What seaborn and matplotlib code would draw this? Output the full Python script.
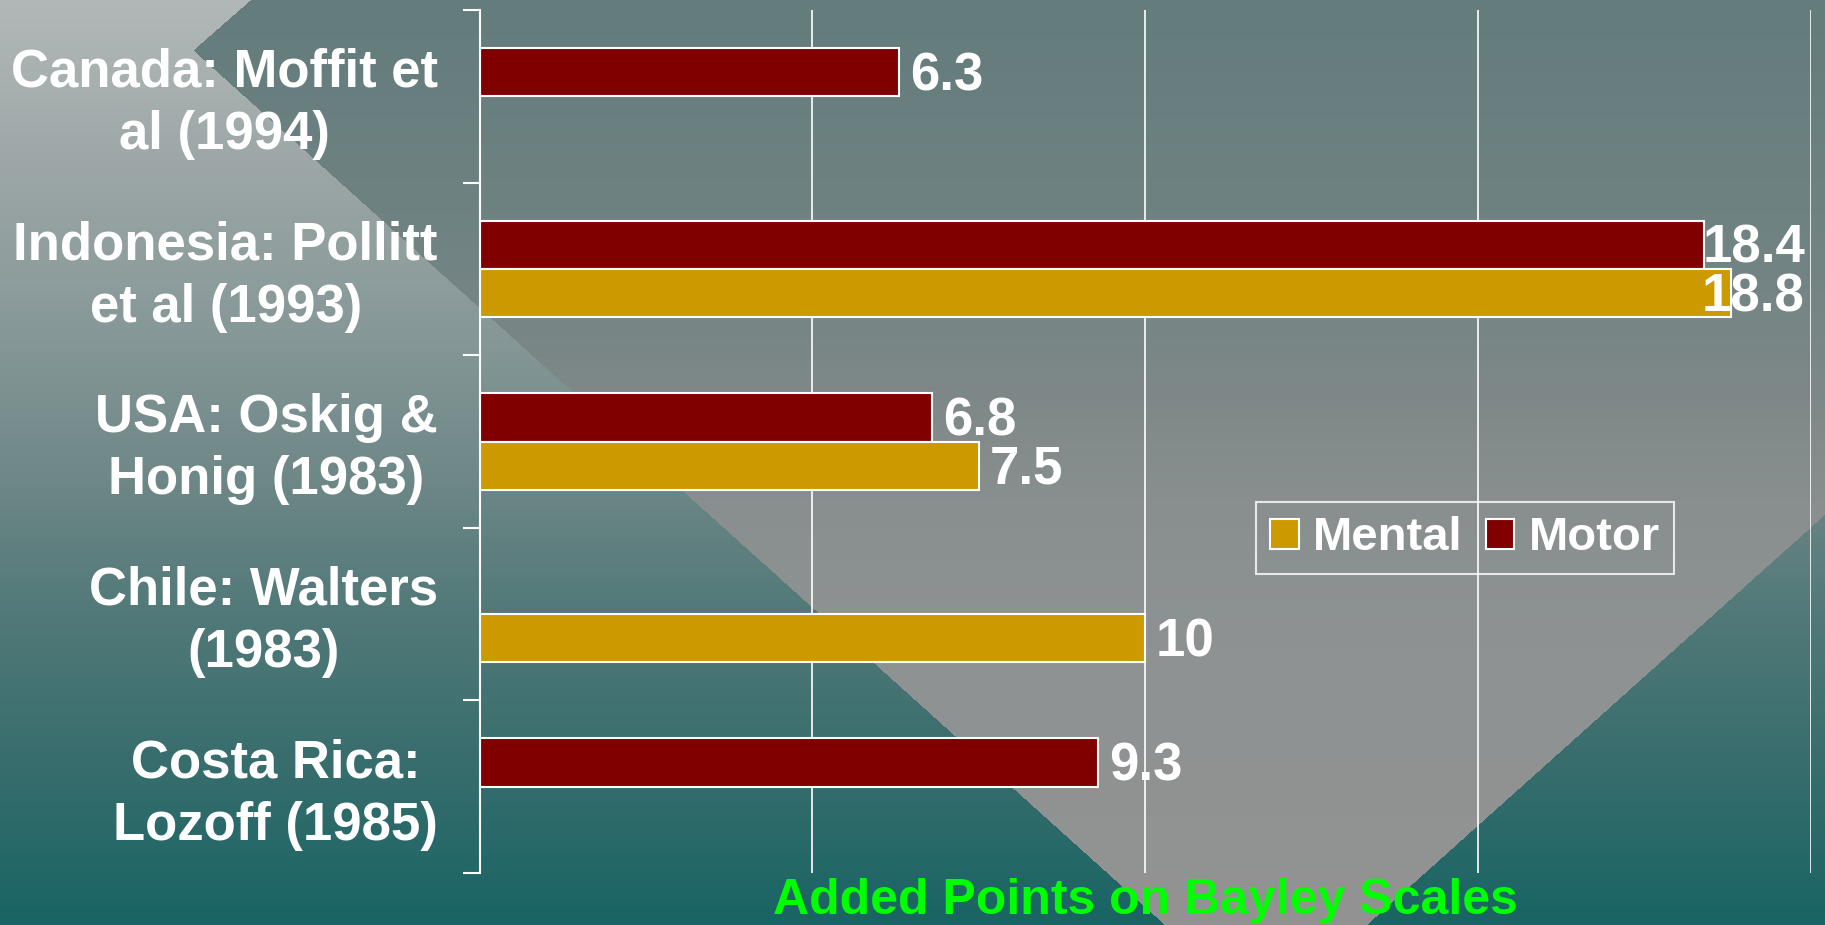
import numpy as np
import pandas as pd
import seaborn as sns
import matplotlib.pyplot as plt
import matplotlib.transforms as mtransforms
from matplotlib.patches import Patch

plt.rcParams['font.family'] = ['Liberation Sans', 'DejaVu Sans']
plt.rcParams['font.weight'] = 'bold'

# data
studies = ['Canada: Moffit et\nal (1994)', 'Indonesia: Pollitt\net al (1993)',
           'USA: Oskig &\nHonig (1983)', 'Chile: Walters\n(1983)',
           'Costa Rica:\nLozoff (1985)']
mental = [np.nan, 18.8, 7.5, 10, np.nan]
motor = [6.3, 18.4, 6.8, np.nan, 9.3]
series = ['Mental', 'Motor']
colors = {'Mental': '#CC9900', 'Motor': '#800000'}

df = pd.DataFrame({'study': studies * 2,
                   'test': ['Mental'] * len(studies) + ['Motor'] * len(studies),
                   'points': mental + motor}).dropna()

W, H = 1825, 925
fig = plt.figure(figsize=(W / 100, H / 100), dpi=100)

# slide background: vertical gradient + grey wedge
yy, xx = np.mgrid[0:H, 0:W].astype(float)
def grad(stops, ys):
    pos = [s[0] for s in stops]
    return np.stack([np.interp(ys, pos, [s[1][i] for s in stops]) for i in range(3)], axis=-1)
outside = grad([(0, (178, 184, 184)), (170, (156, 166, 166)), (330, (135, 152, 152)),
                (480, (110, 135, 135)), (600, (84, 122, 122)), (750, (58, 110, 110)),
                (925, (25, 100, 100))], yy)
wedge = grad([(0, (100, 124, 124)), (250, (113, 131, 131)), (400, (127, 136, 136)),
              (500, (137, 143, 143)), (650, (142, 146, 146)), (925, (147, 147, 147))], yy)
xa = 250 - yy * 1.14
xb = 193 + (yy - 50) * 1.1109
xc = 1366 + (925 - yy) * 1.1169
inside = (xx > xa) & (xx > xb) & (xx < xc)
bg = np.where(inside[..., None], wedge, outside) / 255.0
bgax = fig.add_axes([0, 0, 1, 1], zorder=-5)
bgax.imshow(bg, aspect='auto', extent=(0, 1, 0, 1))
bgax.axis('off')

ax = fig.add_axes([479.5 / W, 1 - 873 / H, 1331 / W, 863 / H])
ax.patch.set_alpha(0)
sns.barplot(data=df, x='points', y='study', hue='test', order=studies,
            hue_order=['Motor', 'Mental'], palette=colors, orient='h',
            width=0.56, gap=0, saturation=1, edgecolor='white', linewidth=1.5,
            legend=False, ax=ax)

ax.set_xlim(0, 20)
ax.set_xticks([0, 5, 10, 15, 20])
ax.set_xticklabels([])
ax.tick_params(axis='x', length=0)
ax.grid(axis='x', color='white', linewidth=1.2)
ax.set_axisbelow(True)
for s in ['top', 'right', 'bottom']:
    ax.spines[s].set_visible(False)
ax.spines['left'].set_color('white')
ax.spines['left'].set_linewidth(1.5)

ax.set_yticks(np.arange(-0.5, len(studies), 1), minor=True)
ax.tick_params(axis='y', which='minor', length=12, width=1.5, color='white')
ax.tick_params(axis='y', which='major', length=0, pad=30, labelsize=38, labelcolor='white')
lift = mtransforms.ScaledTranslation(0, 4 / 100, fig.dpi_scale_trans)
for t in ax.get_yticklabels():
    t.set_multialignment('center')
    t.set_fontweight('bold')
    t.set_linespacing(1.32)
    t.set_transform(t.get_transform() + lift)
ax.set_ylabel('')
ax.set_xlabel('Added Points on Bayley Scales', color='#00FF00', fontsize=36,
              fontweight='bold', labelpad=0)

# value labels
for p in ax.patches:
    w = p.get_width()
    if np.isnan(w) or w == 0:
        continue
    yc = p.get_y() + p.get_height() / 2
    if w > 17:
        ax.annotate(f'{w:g}', (20, yc), xytext=(-4, -3), textcoords='offset points',
                    ha='right', va='center', color='white', fontsize=38, fontweight='bold')
    else:
        ax.annotate(f'{w:g}', (w, yc), xytext=(8, -3), textcoords='offset points',
                    ha='left', va='center', color='white', fontsize=38, fontweight='bold')

handles = [Patch(facecolor=colors[s], edgecolor='white', linewidth=1.5) for s in series]
leg = fig.legend(handles, series, loc='upper left', bbox_to_anchor=(1256 / W, 1 - 502 / H),
                 ncol=2, fontsize=34, frameon=True, fancybox=False, borderaxespad=0,
                 handlelength=0.6, handleheight=0.6, handletextpad=0.3, columnspacing=0.5,
                 borderpad=0.3, labelcolor='white', prop={'weight': 'bold', 'size': 34})
leg.get_frame().set_facecolor('none')
leg.get_frame().set_edgecolor('white')
leg.get_frame().set_linewidth(1.5)

fig.savefig('out.png', dpi=100)
